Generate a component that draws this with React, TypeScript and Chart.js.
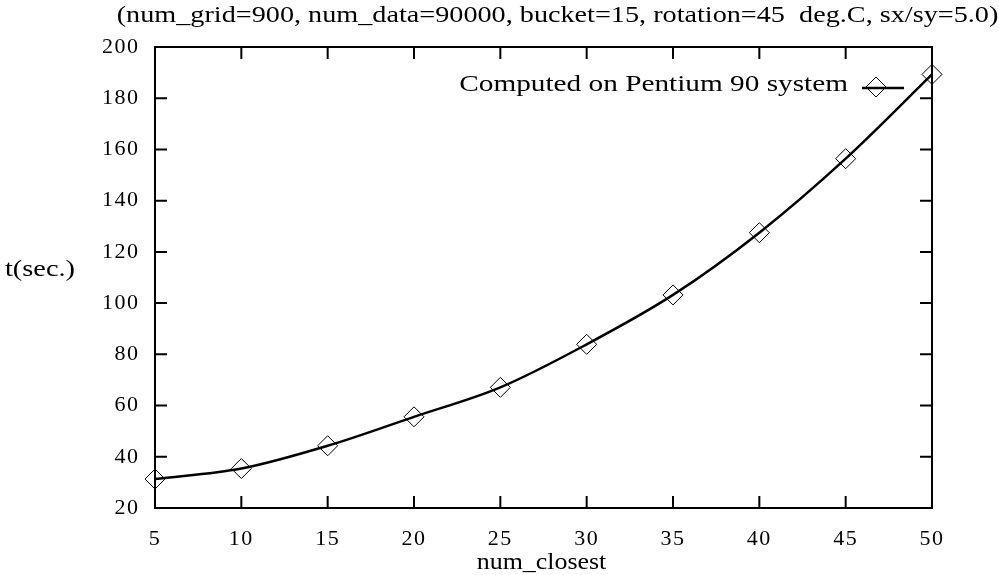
import React, { useEffect, useRef } from "react";
import { Chart, registerables } from "chart.js";

Chart.register(...registerables);

// Timing measurements: neighbours searched vs. run time
const numClosest = [5, 10, 15, 20, 25, 30, 35, 40, 45, 50];
const seconds = [31.3, 35.4, 44.3, 55.6, 67.1, 83.9, 103.2, 127.5, 156.4, 189.3];

const xTicks = [5, 10, 15, 20, 25, 30, 35, 40, 45, 50];
const yTicks = [20, 40, 60, 80, 100, 120, 140, 160, 180, 200];

const seriesLabel = "Computed on Pentium 90 system";
const titleText =
  "(num_grid=900, num_data=90000, bucket=15, rotation=45  deg.C, sx/sy=5.0)";
const xTitle = "num_closest";
const yTitle = "t(sec.)";

const FONT_FAMILY = "'Liberation Serif', 'Times New Roman', serif";
const TICK_FONT_SIZE = 22;
const LABEL_FONT_SIZE = 24;
const TICK_SPACING = 1.5;

// Draw text stretched horizontally (wide roman face look)
function wideText(
  ctx: CanvasRenderingContext2D,
  text: string,
  x: number,
  y: number,
  align: CanvasTextAlign,
  stretch: number
) {
  ctx.save();
  ctx.translate(x, y);
  ctx.scale(stretch, 1);
  ctx.textAlign = align;
  ctx.fillText(text, 0, 0);
  ctx.restore();
}

// Slightly wider tracking for the tick labels drawn by the scales
const trackingPlugin = {
  id: "tickTracking",
  beforeDraw(chart: any) {
    (chart.ctx as any).letterSpacing = `${TICK_SPACING}px`;
  },
  beforeDatasetsDraw(chart: any) {
    (chart.ctx as any).letterSpacing = "0px";
  },
};

// Frame, inward ticks on all four sides, titles and key
const framePlugin = {
  id: "gnuplotFrame",
  afterDatasetsDraw(chart: any) {
    const { ctx, chartArea, scales } = chart;
    const { left, right, top, bottom } = chartArea;
    const tick = 12;
    ctx.save();
    ctx.strokeStyle = "#000";
    ctx.lineWidth = 2;
    ctx.beginPath();
    for (const v of xTicks) {
      const px = scales.x.getPixelForValue(v);
      ctx.moveTo(px, bottom);
      ctx.lineTo(px, bottom - tick);
      ctx.moveTo(px, top);
      ctx.lineTo(px, top + tick);
    }
    for (const v of yTicks) {
      const py = scales.y.getPixelForValue(v);
      ctx.moveTo(left, py);
      ctx.lineTo(left + tick, py);
      ctx.moveTo(right, py);
      ctx.lineTo(right - tick, py);
    }
    ctx.stroke();
    ctx.strokeRect(left, top, right - left, bottom - top);

    ctx.fillStyle = "#000";
    ctx.font = `${LABEL_FONT_SIZE}px ${FONT_FAMILY}`;
    ctx.textBaseline = "middle";

    // title above the frame
    wideText(ctx, titleText, (left + right) / 2 + 14, 16, "center", 1.175);
    // x axis title
    wideText(ctx, xTitle, (left + right) / 2 - 2, 563, "center", 1.08);
    // y axis title, horizontal at the left
    wideText(ctx, yTitle, 5, (top + bottom) / 2 - 8, "left", 1.18);

    // key: label, line sample, diamond
    const ky = top + 40;
    const lx0 = right - 70;
    const lx1 = right - 28;
    wideText(ctx, seriesLabel, lx0 - 14, ky - 2, "right", 1.22);
    ctx.lineWidth = 2.5;
    ctx.beginPath();
    ctx.moveTo(lx0, ky + 1);
    ctx.lineTo(lx1, ky + 1);
    ctx.stroke();
    const cx = lx0 + 14;
    const r = 10;
    ctx.lineWidth = 1;
    ctx.beginPath();
    ctx.moveTo(cx, ky - r);
    ctx.lineTo(cx + r, ky);
    ctx.lineTo(cx, ky + r);
    ctx.lineTo(cx - r, ky);
    ctx.closePath();
    ctx.stroke();
    ctx.restore();
  },
};

export default function App() {
  const canvasRef = useRef<HTMLCanvasElement | null>(null);

  useEffect(() => {
    const canvas = canvasRef.current;
    if (!canvas) return;
    const chart = new Chart(canvas, {
      type: "line",
      data: {
        datasets: [
          {
            label: seriesLabel,
            data: numClosest.map((x, i) => ({ x, y: seconds[i] })),
            borderColor: "#000",
            borderWidth: 2.5,
            cubicInterpolationMode: "monotone",
            pointStyle: "rectRot",
            pointRadius: 10,
            pointBorderWidth: 1,
            pointBorderColor: "#000",
            pointBackgroundColor: "rgba(0,0,0,0)",
            fill: false,
            clip: false as any,
          },
        ],
      },
      options: {
        responsive: false,
        animation: false,
        events: [],
        layout: {
          autoPadding: false,
          padding: { top: 47, right: 67, left: 0, bottom: 0 },
        },
        plugins: {
          legend: { display: false },
          title: { display: false },
          tooltip: { enabled: false },
        },
        scales: {
          x: {
            type: "linear",
            min: 5,
            max: 50,
            afterFit: (s: any) => {
              s.height = 67;
            },
            afterBuildTicks: (s: any) => {
              s.ticks = xTicks.map((v) => ({ value: v }));
            },
            grid: { display: false, drawTicks: false },
            border: { display: false },
            ticks: {
              color: "#000",
              padding: 18,
              maxRotation: 0,
              autoSkip: false,
              font: { family: FONT_FAMILY, size: TICK_FONT_SIZE },
            },
          },
          y: {
            type: "linear",
            min: 20,
            max: 200,
            afterFit: (s: any) => {
              s.width = 155;
            },
            afterBuildTicks: (s: any) => {
              s.ticks = yTicks.map((v) => ({ value: v }));
            },
            grid: { display: false, drawTicks: false },
            border: { display: false },
            ticks: {
              color: "#000",
              padding: 17 - TICK_SPACING,
              autoSkip: false,
              font: { family: FONT_FAMILY, size: TICK_FONT_SIZE },
            },
          },
        },
      },
      plugins: [trackingPlugin, framePlugin],
    });
    return () => chart.destroy();
  }, []);

  return (
    <div style={{ position: "absolute", left: 0, top: 0, width: 999, height: 575, background: "#fff" }}>
      <canvas ref={canvasRef} width={999} height={575} style={{ display: "block" }} />
    </div>
  );
}
